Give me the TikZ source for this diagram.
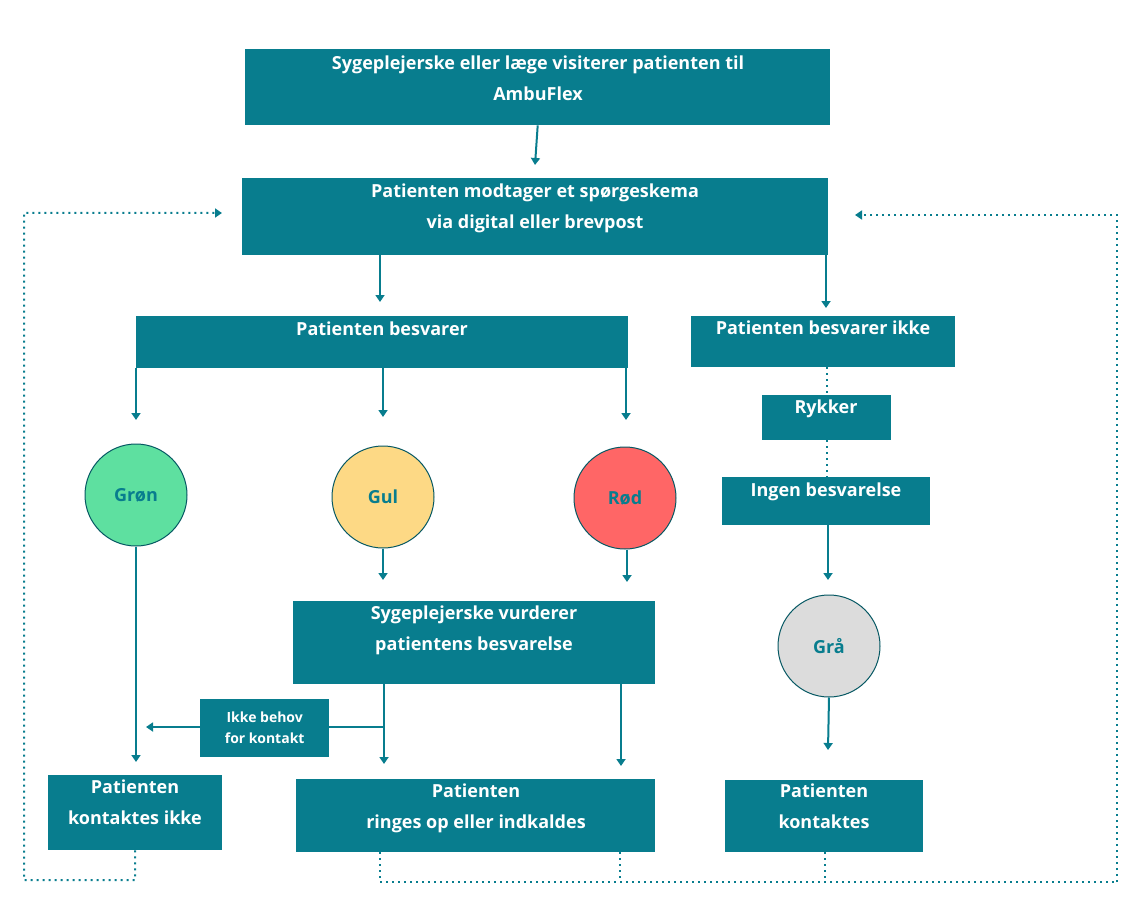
\documentclass[tikz,border=0pt]{standalone}
\usepackage{fontspec}
\setmainfont{Open Sans}
\usetikzlibrary{arrows.meta}
\definecolor{teal}{HTML}{087D8E}
\definecolor{cgreen}{HTML}{5EE0A0}
\definecolor{cyellow}{HTML}{FDD985}
\definecolor{cred}{HTML}{FF6666}
\definecolor{cgrey}{HTML}{DCDCDC}
\begin{document}
\begin{tikzpicture}[x=1pt,y=-1pt,
  box/.style={fill=teal,draw=none,anchor=north west,inner sep=0},
  txt/.style={text=white,font=\fontsize{18}{31}\selectfont\bfseries,align=center,anchor=north,inner sep=0},
  stxt/.style={text=white,font=\fontsize{14}{21}\selectfont\bfseries,align=center,inner sep=0},
  circ/.style={circle,minimum size=102pt,draw=teal!70!black,line width=1pt,text=teal,font=\fontsize{18}{20}\selectfont\bfseries},
  arr/.style={draw=teal,line width=2pt,-{Triangle[length=7pt,width=9pt]}},
  dot/.style={draw=teal,line width=2pt,dash pattern=on 2pt off 4pt},
  darr/.style={dot,-{Triangle[length=7pt,width=9pt]}}]
\useasboundingbox (0,0) rectangle (1140,920);
\node[box,minimum width=585pt,minimum height=76pt] (A) at (245,49) {};
\node[txt] at (538,56) {Sygeplejerske eller læge visiterer patienten til\\AmbuFlex};
\node[box,minimum width=586pt,minimum height=77pt] (B) at (242,178) {};
\node[txt] at (535,184) {Patienten modtager et spørgeskema\\via digital eller brevpost};
\node[box,minimum width=492pt,minimum height=52pt] (C) at (136,316) {};
\node[txt] at (382,322) {Patienten besvarer};
\node[box,minimum width=264pt,minimum height=51pt] (D) at (691,316) {};
\node[txt] at (823,321) {Patienten besvarer ikke};
\node[box,minimum width=129pt,minimum height=45pt] (R) at (762,395) {};
\node[txt] at (826,400) {Rykker};
\node[box,minimum width=208pt,minimum height=48pt] (I) at (722,477) {};
\node[txt] at (826,483) {Ingen besvarelse};
\node[circ,fill=cgreen] (gr) at (136,495) {Grøn};
\node[circ,fill=cyellow] (gu) at (383,497) {Gul};
\node[circ,fill=cred] (ro) at (625,498) {Rød};
\node[circ,fill=cgrey] (ga) at (829,646) {Grå};
\node[box,minimum width=362pt,minimum height=83pt] (E) at (293,601) {};
\node[txt] at (474,606) {Sygeplejerske vurderer\\patientens besvarelse};
\node[box,minimum width=174pt,minimum height=75pt] (F) at (48,775) {};
\node[txt] at (135,780) {Patienten\\kontaktes ikke};
\node[box,minimum width=359pt,minimum height=73pt] (G) at (296,779) {};
\node[txt] at (476,784) {Patienten\\ringes op eller indkaldes};
\node[box,minimum width=198pt,minimum height=72pt] (H) at (725,780) {};
\node[txt] at (824,784) {Patienten\\kontaktes};
% arrows
\draw[arr] (A.south) -- (535,165);
\draw[arr] (B.south -| 380,0) -- (380,302);
\draw[arr] (B.south -| 826,0) -- (826,308);
\draw[arr] (C.south -| gr) -- (136,420);
\draw[arr] (C.south -| gu) -- (383,417);
\draw[arr] (C.south -| 626,0) -- (626,420);
\draw[arr] (gu.south) -- (383,580);
\draw[arr] (ro.south -| 627,0) -- (627,582);
\draw[arr] (gr.south) -- (136,762);
\draw[arr] (E.south -| 384,0) -- (384,764);
\draw[arr] (E.south -| 621,0) -- (621,766);
\draw[arr] (384,727) -- (146,727);
\node[box,minimum width=129pt,minimum height=58pt] (K) at (200,699) {};
\node[stxt] at (K.center) {Ikke behov\\for kontakt};
\draw[arr] (I.south -| 828,0) -- (828,580);
\draw[arr] (ga.south) -- (828,750);
% dotted
\draw[dot] (D.south -| 827,0) -- (R.north -| 827,0);
\draw[dot] (R.south -| 827,0) -- (I.north -| 827,0);
\draw[darr] (F.south) -- (135,880) -- (24,880) -- (24,213) -- (222,213);
\draw[dot] (G.south -| 380,0) -- (380,882) -- (1117,882);
\draw[dot] (G.south -| 620,0) -- (620,882);
\draw[dot] (H.south -| 825,0) -- (825,882);
\draw[darr] (1117,882) -- (1117,215) -- (855,215);
\end{tikzpicture}
\end{document}
